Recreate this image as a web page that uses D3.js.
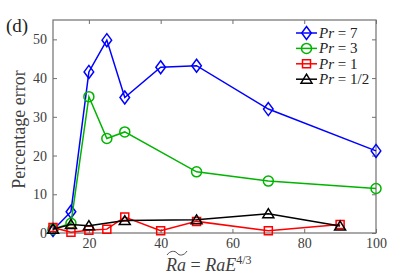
<!DOCTYPE html>
<html>
<head>
<meta charset="utf-8">
<script src="https://cdn.jsdelivr.net/npm/d3@7"></script>
<style>
  body { margin: 0; background: #fff; }
</style>
</head>
<body>
<div id="chart"></div>
<script>
// Data
const xPr7 = [10, 15, 20, 25, 30, 40, 50, 70, 100];
const yPr7 = [0.8, 5.5, 41.6, 49.8, 35, 42.8, 43.2, 32, 21.2];

const xPr3 = [10, 15, 20, 25, 30, 50, 70, 100];
const yPr3 = [1.0, 2.5, 35.2, 24.4, 26.1, 15.8, 13.4, 11.5];

const xPr1 = [10, 15, 20, 25, 30, 40, 50, 70, 90];
const yPr1 = [1.4, 0.2, 0.7, 1.0, 4.1, 0.6, 3.0, 0.6, 2.2];

const xPrHalf = [10, 15, 20, 30, 50, 70, 90];
const yPrHalf = [1.0, 2.2, 1.9, 3.2, 3.4, 5.0, 1.8];

const xTicks = [20, 40, 60, 80, 100];
const yTicks = [0, 10, 20, 30, 40, 50];

const seriesList = [
  {label: "7", xs: xPr7, ys: yPr7, color: "#0000ff", marker: "diamond"},
  {label: "3", xs: xPr3, ys: yPr3, color: "#00b400", marker: "circle"},
  {label: "1", xs: xPr1, ys: yPr1, color: "#ff0000", marker: "square"},
  {label: "1/2", xs: xPrHalf, ys: yPrHalf, color: "#000000", marker: "triangle"}
];

const SERIF = "'Liberation Serif', 'Times New Roman', 'Liberation Sans', serif";

const width = 415, height = 277;
const margin = {top: 20, right: 39, bottom: 44, left: 53};
const innerW = width - margin.left - margin.right,
      innerH = height - margin.top - margin.bottom;

const svg = d3.select("#chart").append("svg")
  .attr("width", width)
  .attr("height", height)
  .attr("font-family", SERIF);

const g = svg.append("g")
  .attr("transform", `translate(${margin.left},${margin.top})`);

const x = d3.scaleLinear().domain([10, 100]).range([0, innerW]);
const y = d3.scaleLinear().domain([0, 55]).range([innerH, 0]);

const axisColor = "#707070";
const labelColor = "#404040";

// marker shapes
function markerPath(type) {
  if (type === "diamond") return "M0,-6.5L4.8,0L0,6.5L-4.8,0Z";
  if (type === "square") return "M-4,-4H4V4H-4Z";
  if (type === "triangle") return "M0,-5L5.5,4H-5.5Z";
  return d3.arc()({innerRadius: 0, outerRadius: 5, startAngle: 0, endAngle: 2 * Math.PI});
}

// axes: bottom / left with labels, top / right without, ticks pointing in
function styleAxis(sel) {
  sel.attr("font-family", SERIF);
  sel.select(".domain").remove();
  sel.selectAll(".tick line").attr("stroke", axisColor);
  sel.selectAll(".tick text")
    .attr("fill", labelColor)
    .attr("font-family", SERIF)
    .attr("font-size", 14);
}

g.append("g")
  .attr("transform", `translate(0,${innerH})`)
  .call(d3.axisBottom(x).tickValues(xTicks).tickSizeInner(-4).tickPadding(5))
  .call(styleAxis);

g.append("g")
  .call(d3.axisTop(x).tickValues(xTicks).tickSizeInner(-4).tickFormat(""))
  .call(styleAxis);

g.append("g")
  .call(d3.axisLeft(y).tickValues(yTicks).tickSizeInner(-4).tickPadding(6))
  .call(styleAxis);

g.append("g")
  .attr("transform", `translate(${innerW},0)`)
  .call(d3.axisRight(y).tickValues(yTicks).tickSizeInner(-4).tickFormat(""))
  .call(styleAxis);

// plot box
g.append("rect")
  .attr("width", innerW)
  .attr("height", innerH)
  .attr("fill", "none")
  .attr("stroke", axisColor)
  .attr("stroke-width", 1.2);

const line = d3.line()
  .x(d => x(d[0]))
  .y(d => y(d[1]));

seriesList.forEach(s => {
  const pts = s.xs.map((v, i) => [v, s.ys[i]]);
  g.append("path")
    .datum(pts)
    .attr("d", line)
    .attr("fill", "none")
    .attr("stroke", s.color)
    .attr("stroke-width", 1.5);

  g.selectAll(null)
    .data(pts)
    .enter().append("path")
    .attr("d", markerPath(s.marker))
    .attr("transform", d => `translate(${x(d[0])},${y(d[1])})`)
    .attr("fill", "none")
    .attr("stroke", s.color)
    .attr("stroke-width", 1.5);
});

// legend
const legend = g.append("g")
  .attr("transform", `translate(${296 - margin.left},${33 - margin.top})`);

seriesList.forEach((s, i) => {
  const row = legend.append("g").attr("transform", `translate(0,${i * 15.4})`);
  row.append("line")
    .attr("x1", 0).attr("x2", 21)
    .attr("stroke", s.color).attr("stroke-width", 1.5);
  row.append("path")
    .attr("d", markerPath(s.marker))
    .attr("transform", "translate(10.5,0)")
    .attr("fill", "none")
    .attr("stroke", s.color).attr("stroke-width", 1.5);
  const t = row.append("text")
    .attr("x", 23).attr("y", 5)
    .attr("fill", "#222")
    .attr("font-family", SERIF)
    .attr("font-size", 15);
  t.append("tspan").attr("font-style", "italic").text("Pr");
  t.append("tspan").text(" = " + s.label);
});

// y label
svg.append("text")
  .attr("transform", `translate(25,${margin.top + innerH / 2 + 3}) rotate(-90)`)
  .attr("text-anchor", "middle")
  .attr("fill", labelColor)
  .attr("font-family", SERIF)
  .attr("font-size", 18)
  .text("Percentage error");

// x label: tilde Ra = Ra E^{4/3}
const xl = svg.append("text")
  .attr("x", 166)
  .attr("y", 271)
  .attr("fill", labelColor)
  .attr("font-family", SERIF)
  .attr("font-size", 18);
xl.append("tspan").attr("font-style", "italic").text("Ra");
xl.append("tspan").text(" = ");
xl.append("tspan").attr("font-style", "italic").text("RaE");
xl.append("tspan").attr("dy", -7).attr("font-size", 12).text("4/3");

svg.append("path")
  .attr("d", "M167,255 C170,250.5 175,250.5 177,253 C179,256 184,256 187,251")
  .attr("fill", "none")
  .attr("stroke", labelColor)
  .attr("stroke-width", 0.9);

// panel label
svg.append("text")
  .attr("x", 6)
  .attr("y", 32)
  .attr("fill", "#222")
  .attr("font-family", SERIF)
  .attr("font-size", 19)
  .text("(d)");
</script>
</body>
</html>
